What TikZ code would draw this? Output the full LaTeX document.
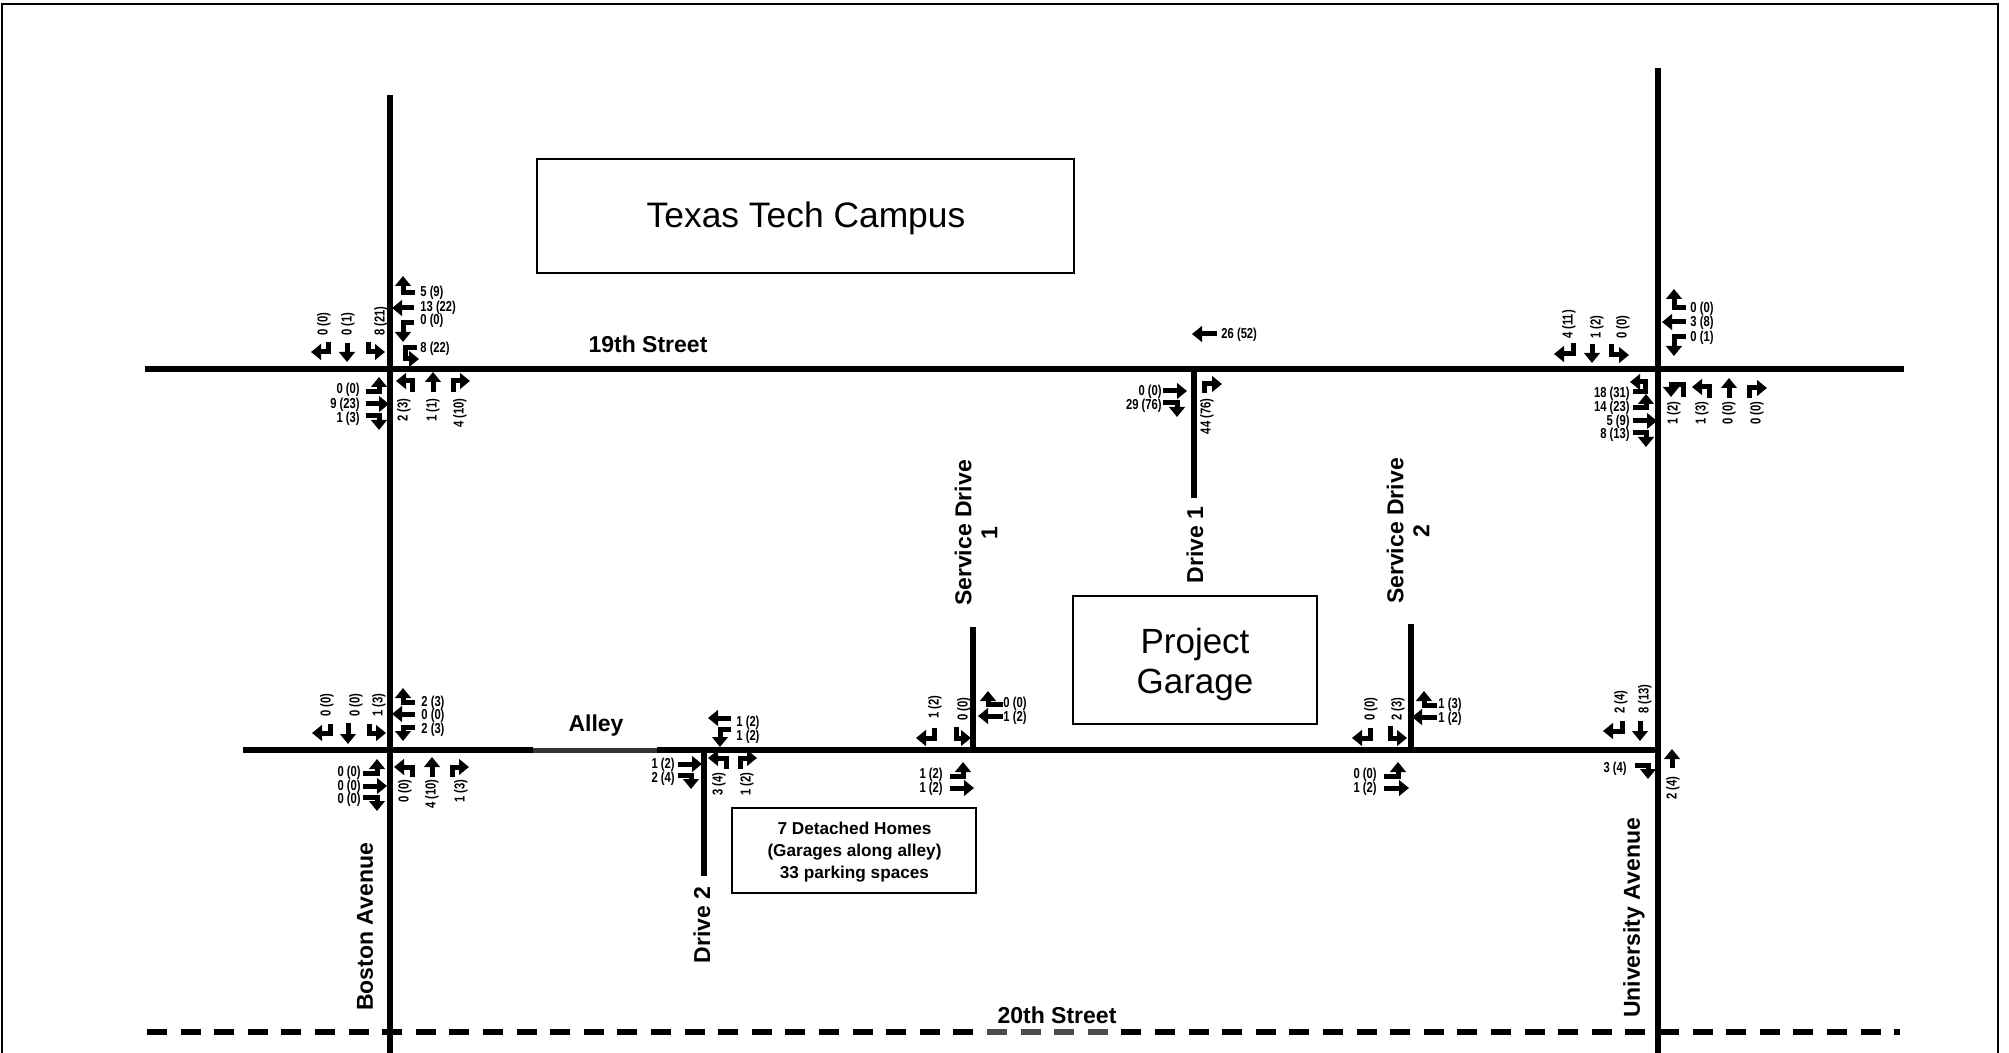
\documentclass[tikz,border=0pt]{standalone}
\usepackage{fontspec}
\setmainfont{Liberation Sans}
\newfontfamily\narrowfont[FakeStretch=0.78]{Liberation Sans}
\usetikzlibrary{arrows.meta}
\newcount\lc
\tikzset{
  x=0.5pt,y=-0.5pt,
  road/.style={line width=2.8pt,line cap=butt},
  mv/.style={line width=2.5pt,line join=miter,-{Triangle[length=5pt,width=7.8pt]}},
  box/.style={draw,line width=1.2pt,fill=white,inner sep=0pt},
  boxtext/.style={inner sep=0pt,align=center},
  lab/.style={font=\narrowfont\bfseries\fontsize{7.2}{8}\selectfont,inner sep=0pt},
  rd/.style={font=\bfseries\fontsize{11.5}{13}\selectfont,inner sep=0pt,align=center},
}
\newcommand{\lR}[3]{\global\advance\lc1 \node[lab,anchor=west,yshift=-0.5pt] (l\the\lc) at (#1,#2) {#3};}
\newcommand{\lL}[3]{\global\advance\lc1 \node[lab,anchor=east,yshift=-0.5pt] (l\the\lc) at (#1,#2) {#3};}
\newcommand{\lU}[3]{\global\advance\lc1 \node[lab,rotate=90,anchor=west,xshift=0.4pt] (l\the\lc) at (#1,#2) {#3};}
\newcommand{\lD}[3]{\global\advance\lc1 \node[lab,rotate=90,anchor=east,xshift=0.4pt] (l\the\lc) at (#1,#2) {#3};}
\begin{document}
\begin{tikzpicture}
\useasboundingbox (0,0) rectangle (2009,1053);
\fill[white] (0,0) rectangle (2009,1053);
\draw[line width=1.1pt] (2,1053) -- (2,4) -- (1998,4) -- (1998,1053);
% roads
\coordinate (bN) at (390,95); \coordinate (bS) at (390,1053);
\coordinate (uN) at (1658,68); \coordinate (uS) at (1658,1053);
\coordinate (nW) at (145,369); \coordinate (nE) at (1904,369);
\coordinate (aW) at (243,750); \coordinate (aE) at (1661,750);
\coordinate (d1a) at (1194,369); \coordinate (d1b) at (1194,498);
\coordinate (d2a) at (704,750); \coordinate (d2b) at (704,876);
\coordinate (s1a) at (973,750); \coordinate (s1b) at (973,627);
\coordinate (s2a) at (1411,750); \coordinate (s2b) at (1411,624);
\coordinate (tW) at (147,1032); \coordinate (tE) at (1900,1032);
\draw[road] (bN) -- (bS);
\draw[road] (uN) -- (uS);
\draw[road] (nW) -- (nE);
\draw[road] (aW) -- (aE);
\draw[road] (d1a) -- (d1b);
\draw[road] (d2a) -- (d2b);
\draw[road] (s1a) -- (s1b);
\draw[road] (s2a) -- (s2b);
\draw[road,dash pattern=on 10pt off 6.8pt] (tW) -- (tE);
% faded stretches of the printed lines
\fill[white] (533,746) rectangle (657,754);
\fill[black!80] (533,748) rectangle (657,752.5);
\fill[white,opacity=.3] (985,1028) rectangle (1110,1036);
% boxes
\node[box,minimum width=268.5pt,minimum height=57pt] (campus) at (805.5,216) {};
\node[boxtext,font=\fontsize{17.7}{20}\selectfont] (campustxt) at (806,218) {Texas Tech Campus};
\node[box,minimum width=122pt,minimum height=64pt] (garage) at (1195,660) {};
\node[boxtext,font=\fontsize{17.5}{20}\selectfont] (garagetxt) at (1195,664) {Project\\Garage};
\node[box,minimum width=122pt,minimum height=42.5pt,line width=1pt] (homes) at (854,850.5) {};
\node[boxtext,font=\bfseries\fontsize{8.6}{11}\selectfont] (homestxt) at (854.5,852.5) {7 Detached Homes\\(Garages along alley)\\33 parking spaces};
% road names
\node[rd] (st19) at (648,344) {19th Street};
\node[rd] (alley) at (596,726) {Alley};
\node[rd] (st20) at (1057,1015) {20th Street};
\node[rd,rotate=90] (boston) at (365,927) {Boston Avenue};
\node[rd,rotate=90] (univ) at (1634,918) {University Avenue};
\node[rd,rotate=90] (drv2) at (702,925) {Drive 2};
\node[rd,rotate=90] (drv1) at (1195,545) {Drive 1};
\node[rd,rotate=90] (sd1) at (976,533) {Service Drive\\1};
\node[rd,rotate=90] (sd2) at (1408,531) {Service Drive\\2};
% Boston / 19th
\draw[mv] (415,293) -- (403,293) -- (403,276);
\draw[mv] (414,308) -- (392,308);
\draw[mv] (414,323) -- (403,323) -- (403,342);
\draw[mv] (417,348) -- (405,348) -- (405,359) -- (419,359);
\lR{420}{292}{5 (9)} \lR{420}{307}{13 (22)} \lR{420}{320}{0 (0)} \lR{420}{348}{8 (22)}
\draw[mv] (328,342) -- (328,352) -- (311,352);
\draw[mv] (347,343) -- (347,362);
\draw[mv] (368,342) -- (368,352) -- (385,352);
\lU{324}{337}{0 (0)} \lU{348}{337}{0 (1)} \lU{381}{337}{8 (21)}
\draw[mv] (366,392) -- (379,392) -- (379,377);
\draw[mv] (366,404) -- (389,404);
\draw[mv] (366,416) -- (379,416) -- (379,430);
\lL{360}{389}{0 (0)} \lL{360}{404}{9 (23)} \lL{360}{418}{1 (3)}
\draw[mv] (412,392) -- (412,381) -- (396,381);
\draw[mv] (433,392) -- (433,372);
\draw[mv] (453,392) -- (453,381) -- (470,381);
\lD{404}{399}{2 (3)} \lD{433}{399}{1 (1)} \lD{460}{399}{4 (10)}
% Boston / Alley
\draw[mv] (415,702) -- (403,702) -- (403,688);
\draw[mv] (415,714) -- (392,714);
\draw[mv] (415,727) -- (403,727) -- (403,741);
\lR{421}{702}{2 (3)} \lR{421}{715}{0 (0)} \lR{421}{729}{2 (3)}
\draw[mv] (330,724) -- (330,733) -- (312,733);
\draw[mv] (348,723) -- (348,744);
\draw[mv] (369,724) -- (369,733) -- (386,733);
\lU{327}{718}{0 (0)} \lU{356}{718}{0 (0)} \lU{379}{718}{1 (3)}
\draw[mv] (363,773) -- (377,773) -- (377,759);
\draw[mv] (363,786) -- (387,786);
\draw[mv] (363,797) -- (377,797) -- (377,811);
\lL{361}{772}{0 (0)} \lL{361}{786}{0 (0)} \lL{361}{799}{0 (0)}
\draw[mv] (412,777) -- (412,767) -- (394,767);
\draw[mv] (432,777) -- (432,757);
\draw[mv] (452,777) -- (452,767) -- (469,767);
\lD{405}{780}{0 (0)} \lD{432}{780}{4 (10)} \lD{461}{780}{1 (3)}
% University / 19th
\draw[mv] (1686,308) -- (1674,308) -- (1674,289);
\draw[mv] (1686,322) -- (1662,322);
\draw[mv] (1686,337) -- (1674,337) -- (1674,356);
\lR{1690}{308}{0 (0)} \lR{1690}{322}{3 (8)} \lR{1690}{337}{0 (1)}
\draw[mv] (1573,343) -- (1573,354) -- (1554,354);
\draw[mv] (1592,344) -- (1592,363);
\draw[mv] (1611,344) -- (1611,355) -- (1629,355);
\lU{1569}{340}{4 (11)} \lU{1597}{340}{1 (2)} \lU{1623}{340}{0 (0)}
\draw[mv] (1633,392) -- (1645,392) -- (1645,382) -- (1630,382);
\draw[mv] (1633,408) -- (1646,408) -- (1646,394);
\draw[mv] (1633,421) -- (1657,421);
\draw[mv] (1633,433) -- (1646,433) -- (1646,447);
\lL{1630}{393}{18 (31)} \lL{1630}{407}{14 (23)} \lL{1630}{421}{5 (9)} \lL{1630}{434}{8 (13)}
\draw[mv] (1683,397) -- (1683,385) -- (1671,385) -- (1671,397);
\draw[mv] (1709,398) -- (1709,387) -- (1692,387);
\draw[mv] (1729,398) -- (1729,378);
\draw[mv] (1749,398) -- (1749,388) -- (1767,388);
\lD{1674}{402}{1 (2)} \lD{1702}{402}{1 (3)} \lD{1729}{402}{0 (0)} \lD{1757}{402}{0 (0)}
% Drive 1 / 19th
\draw[mv] (1217,334) -- (1192,334);
\lR{1221}{334}{26 (52)}
\draw[mv] (1163,391) -- (1187,391);
\draw[mv] (1163,403) -- (1177,403) -- (1177,417);
\lL{1162}{391}{0 (0)} \lL{1162}{405}{29 (76)}
\draw[mv] (1204,393) -- (1204,384) -- (1222,384);
\lD{1207}{399}{44 (76)}
% Drive 2 / Alley
\draw[mv] (731,718) -- (708,718);
\draw[mv] (731,729) -- (720,729) -- (720,747);
\lR{736}{722}{1 (2)} \lR{736}{736}{1 (2)}
\draw[mv] (678,764) -- (702,764);
\draw[mv] (678,775) -- (691,775) -- (691,789);
\lL{675}{764}{1 (2)} \lL{675}{778}{2 (4)}
\draw[mv] (726,769) -- (726,758) -- (708,758);
\draw[mv] (740,769) -- (740,758) -- (757,758);
\lD{719}{773}{3 (4)} \lD{747}{773}{1 (2)}
% Service Drive 1 / Alley
\draw[mv] (1003,704) -- (988,704) -- (988,691);
\draw[mv] (1003,716) -- (978,716);
\lR{1003}{703}{0 (0)} \lR{1003}{717}{1 (2)}
\draw[mv] (934,728) -- (934,738) -- (916,738);
\draw[mv] (956,727) -- (956,738) -- (971,738);
\lU{935}{720}{1 (2)} \lU{964}{722}{0 (0)}
\draw[mv] (950,776) -- (963,776) -- (963,762);
\draw[mv] (950,788) -- (974,788);
\lL{943}{774}{1 (2)} \lL{943}{788}{1 (2)}
% Service Drive 2 / Alley
\draw[mv] (1437,705) -- (1424,705) -- (1424,691);
\draw[mv] (1437,717) -- (1412,717);
\lR{1438}{704}{1 (3)} \lR{1438}{718}{1 (2)}
\draw[mv] (1370,728) -- (1370,738) -- (1352,738);
\draw[mv] (1390,726) -- (1390,738) -- (1407,738);
\lU{1371}{722}{0 (0)} \lU{1398}{722}{2 (3)}
\draw[mv] (1384,776) -- (1398,776) -- (1398,762);
\draw[mv] (1384,788) -- (1409,788);
\lL{1377}{774}{0 (0)} \lL{1377}{788}{1 (2)}
% University / Alley
\draw[mv] (1622,721) -- (1622,731) -- (1603,731);
\draw[mv] (1640,721) -- (1640,741);
\lU{1621}{715}{2 (4)} \lU{1645}{715}{8 (13)}
\draw[mv] (1635,765) -- (1648,765) -- (1648,779);
\lL{1627}{768}{3 (4)}
\draw[mv] (1672,768) -- (1672,749);
\lD{1673}{777}{2 (4)}
\end{tikzpicture}
\end{document}
